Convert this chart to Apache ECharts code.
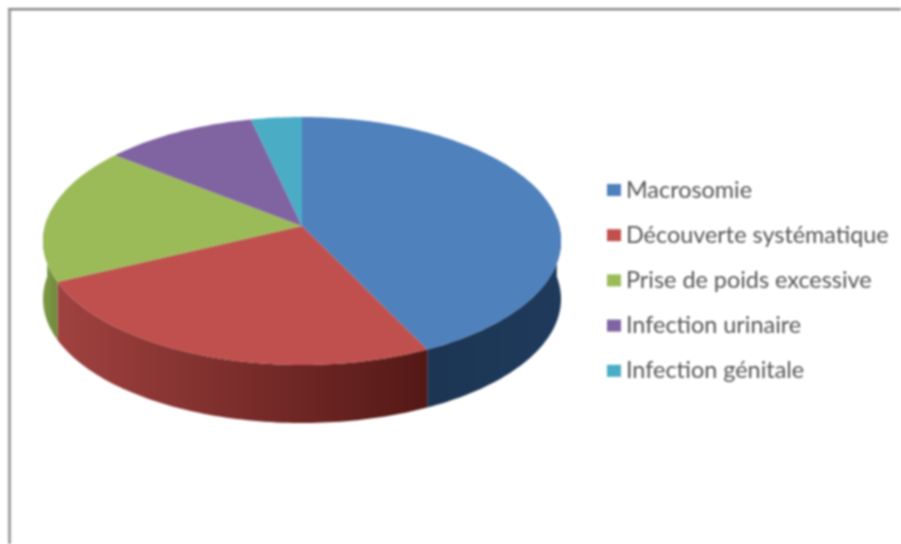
<!DOCTYPE html>
<html><head><meta charset="utf-8">
<style>html,body{margin:0;padding:0;background:#fff}#c{width:901px;height:544px;filter:blur(0.8px)}</style>
<script src="https://cdn.jsdelivr.net/npm/echarts@6/dist/echarts.min.js"></script>
</head><body><div id="c"></div>
<script>
const categories = ['Macrosomie','Découverte systématique','Prise de poids excessive','Infection urinaire','Infection génitale'];
const values = [12, 7, 5, 3, 1];
const topColors = ['#4f81bd','#c0504d','#9bbb59','#8064a2','#4bacc6'];
const sideStops = [['#1c3553','#1f3a5c'],['#a04240','#541816'],['#7f9a45','#6f8a3c'],['#5d4878','#5d4878'],['#2f7f95','#2f7f95']];

const chart = echarts.init(document.getElementById('c'), null, {renderer:'canvas'});
const total = values.reduce((a,b)=>a+b,0);
const G = {cx:302, cy:241, rx:259, ry:124, apexY:226, depth:58};
const k = (G.apexY-G.cy)/G.ry;
const A = G.rx*Math.sqrt(1-k*k);
function proj(t, dy){ // t: clockwise from top
  const u=Math.sin(t), v=-Math.cos(t), w=1+k*v;
  return [G.cx + A*u/w, G.cy + (G.ry*v + (G.apexY-G.cy))/w + (dy||0)];
}
function arcPts(a,b,dy){ const n=Math.max(2,Math.ceil(Math.abs(b-a)/0.02)), r=[];
  for(let i=0;i<=n;i++) r.push(proj(a+(b-a)*i/n,dy)); return r; }
function sliceAngles(i){ let s=0; for(let j=0;j<i;j++) s+=values[j];
  return [s/total*2*Math.PI,(s+values[i])/total*2*Math.PI]; }

const series = categories.map((name,i)=>({
  name, type:'custom', coordinateSystem:'none',
  itemStyle:{color:topColors[i]},
  data:[values[i]], silent:true, animation:false,
  renderItem(){
    const [a,b]=sliceAngles(i), children=[];
    const lo=Math.max(a,Math.PI/2-0.06), hi=Math.min(b,3*Math.PI/2+0.06);
    if(hi>lo){
      const top=arcPts(lo,hi,0), bot=arcPts(lo,hi,G.depth).reverse();
      children.push({type:'polygon',z2:1,shape:{points:top.concat(bot)},
        style:{fill:new echarts.graphic.LinearGradient(0,0,1,0,[
          {offset:0,color:sideStops[i][0]},
          {offset:1,color:sideStops[i][1]}])}});
    }
    children.push({type:'polygon',z2:2,shape:{points:[[G.cx,G.apexY]].concat(arcPts(a,b,0))},
      style:{fill:topColors[i]}});
    return {type:'group',children};
  }
}));

chart.setOption({
  animation:false, backgroundColor:'#fff',
  legend:{orient:'vertical',left:602,top:171,itemWidth:14,itemHeight:12,itemGap:17.2,
    icon:'rect',data:categories,selectedMode:false,
    textStyle:{fontFamily:'Lato, sans-serif',fontSize:23.4,color:'#555',lineHeight:28}},
  graphic:[
    {type:'line',silent:true,shape:{x1:9.5,y1:9,x2:9.5,y2:544},style:{stroke:'#a0a0a0',lineWidth:3}},
    {type:'line',silent:true,shape:{x1:8,y1:9,x2:901,y2:9},style:{stroke:'#858585',lineWidth:2}},
    {type:'line',silent:true,shape:{x1:11,y1:10.5,x2:901,y2:10.5},style:{stroke:'#cfcfcf',lineWidth:1}}
  ],
  series
});
</script></body></html>
